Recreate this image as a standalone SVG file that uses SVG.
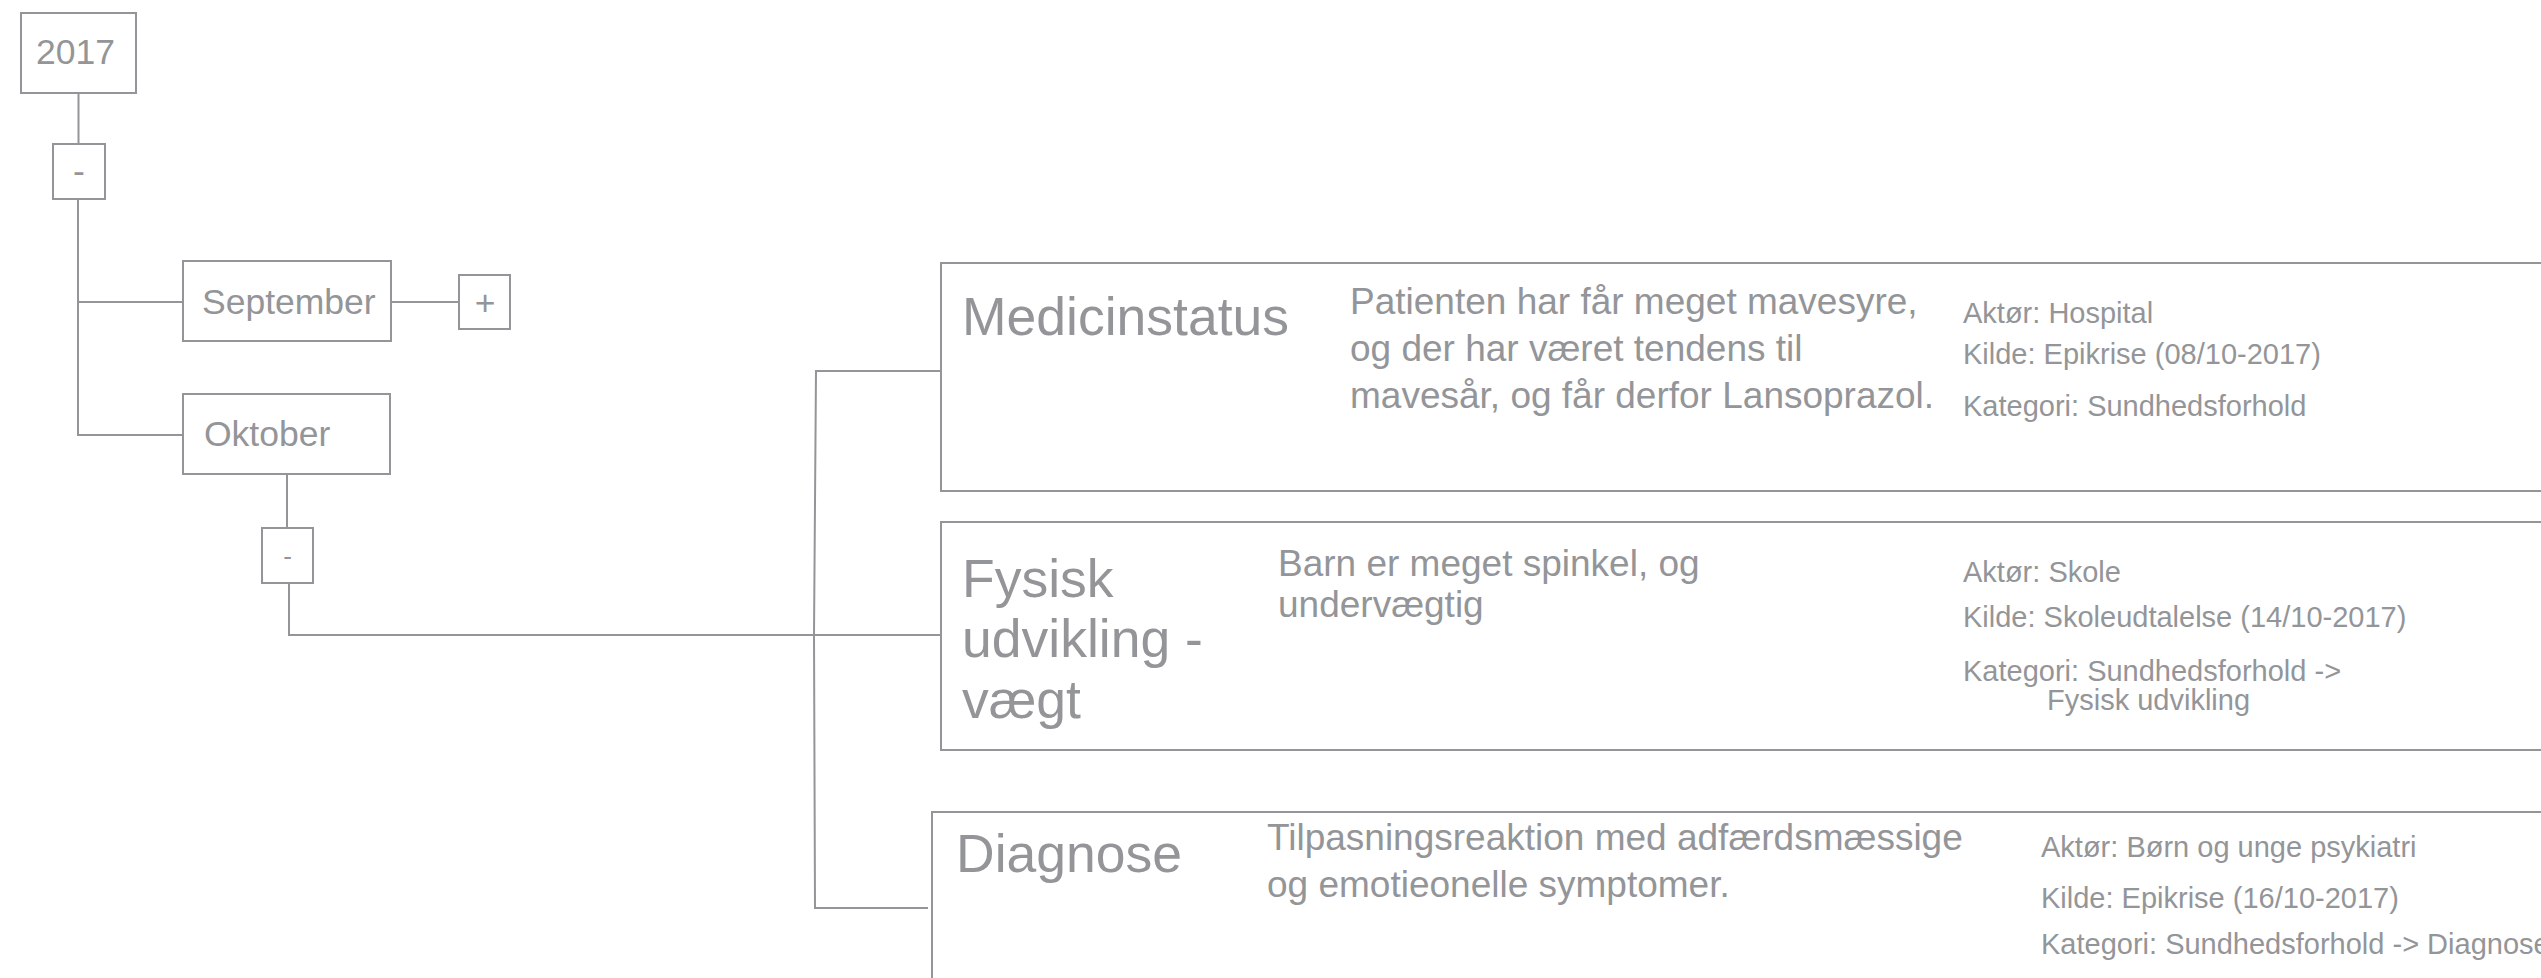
<svg xmlns="http://www.w3.org/2000/svg" width="2541" height="978" viewBox="0 0 2541 978">
<style>
  .box { fill: #ffffff; stroke: #939598; stroke-width: 2; }
  .conn { fill: none; stroke: #939598; stroke-width: 2; }
  text { font-family: "Liberation Sans", Arial, Helvetica, sans-serif; fill: #939598; }
  .t36 { font-size: 35.5px; }
  .title { font-size: 53.5px; }
  .desc { font-size: 37px; }
  .meta { font-size: 29px; }
</style>
<rect width="2541" height="978" fill="#ffffff"/>
<g id="connectors">
  <path class="conn" d="M78.5,93 V144"/>
  <path class="conn" d="M78,199 V435 H183"/>
  <path class="conn" d="M78,302 H183"/>
  <path class="conn" d="M391,302 H459"/>
  <path class="conn" d="M287,474 V528"/>
  <path class="conn" d="M289,583 V635 H941"/>
  <path class="conn" d="M941,371 H816 L814,635 L815,908 H928" stroke-width="1.6"/>
</g>
<g id="node-2017">
  <rect class="box" x="21" y="13" width="115" height="80"/>
  <text class="t36" x="36" y="64">2017</text>
</g>
<g id="node-collapse-2017">
  <rect class="box" x="53" y="144" width="52" height="55"/>
  <text class="t36" x="79" y="183" text-anchor="middle">-</text>
</g>
<g id="node-september">
  <rect class="box" x="183" y="261" width="208" height="80"/>
  <text class="t36" x="202" y="314">September</text>
</g>
<g id="node-expand-september">
  <rect class="box" x="459" y="275" width="51" height="54"/>
  <text class="t36" x="485" y="315" text-anchor="middle">+</text>
</g>
<g id="node-oktober">
  <rect class="box" x="183" y="394" width="207" height="80"/>
  <text class="t36" x="204" y="446">Oktober</text>
</g>
<g id="node-collapse-oktober">
  <rect class="box" x="262" y="528" width="51" height="55"/>
  <text x="287.5" y="565" font-size="26" text-anchor="middle">-</text>
</g>
<g id="node-medicinstatus">
  <rect class="box" x="941" y="263" width="1640" height="228"/>
  <text class="title" x="962" y="335">Medicinstatus</text>
  <text class="desc" x="1350" y="314">Patienten har får meget mavesyre,</text>
  <text class="desc" x="1350" y="361">og der har været tendens til</text>
  <text class="desc" x="1350" y="408">mavesår, og får derfor Lansoprazol.</text>
  <text class="meta" x="1963" y="323">Aktør: Hospital</text>
  <text class="meta" x="1963" y="364">Kilde: Epikrise (08/10-2017)</text>
  <text class="meta" x="1963" y="416">Kategori: Sundhedsforhold</text>
</g>
<g id="node-fysisk">
  <rect class="box" x="941" y="522" width="1640" height="228"/>
  <text class="title" x="962" y="597">Fysisk</text>
  <text class="title" x="962" y="657">udvikling -</text>
  <text class="title" x="962" y="718">vægt</text>
  <text class="desc" x="1278" y="576" font-size="35">Barn er meget spinkel, og</text>
  <text class="desc" x="1278" y="617" font-size="35">undervægtig</text>
  <text class="meta" x="1963" y="582">Aktør: Skole</text>
  <text class="meta" x="1963" y="627">Kilde: Skoleudtalelse (14/10-2017)</text>
  <text class="meta" x="1963" y="681">Kategori: Sundhedsforhold -&gt;</text>
  <text class="meta" x="2047" y="710">Fysisk udvikling</text>
</g>
<g id="node-diagnose">
  <rect class="box" x="932" y="812" width="1650" height="220"/>
  <text class="title" x="956" y="872">Diagnose</text>
  <text class="desc" x="1267" y="850" font-size="35.5">Tilpasningsreaktion med adfærdsmæssige</text>
  <text class="desc" x="1267" y="897" font-size="35.5">og emotieonelle symptomer.</text>
  <text class="meta" x="2041" y="857">Aktør: Børn og unge psykiatri</text>
  <text class="meta" x="2041" y="908">Kilde: Epikrise (16/10-2017)</text>
  <text class="meta" x="2041" y="954">Kategori: Sundhedsforhold -&gt; Diagnose</text>
</g>
</svg>
